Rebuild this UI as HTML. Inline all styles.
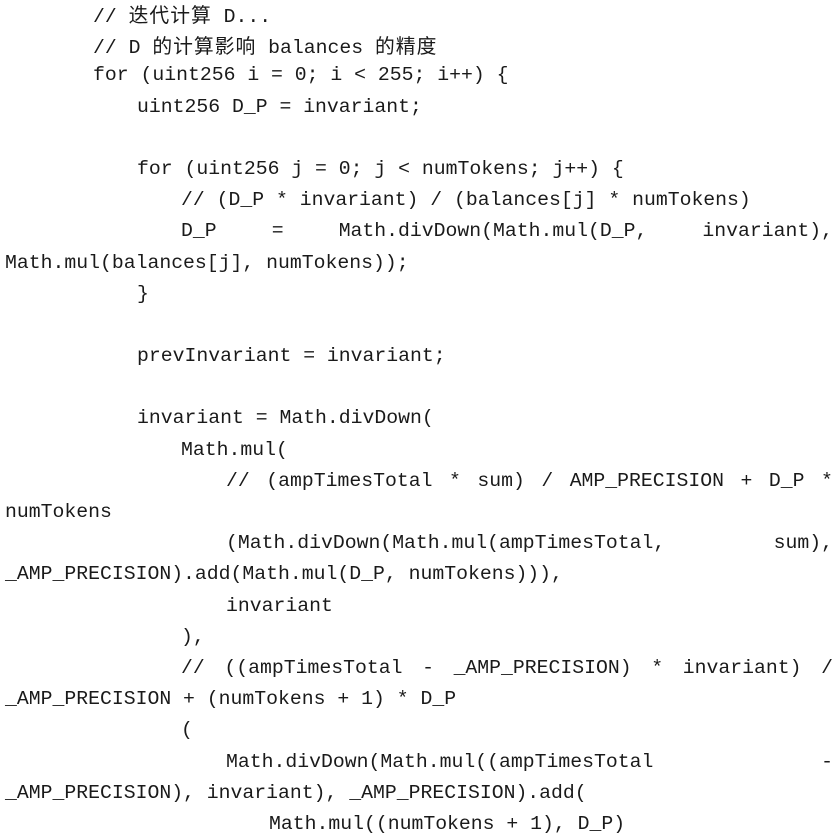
<!DOCTYPE html>
<html><head><meta charset="utf-8"><style>
body{margin:0;background:#fff;width:840px;height:837px;overflow:hidden}
.c{position:absolute;left:5px;top:-2px;width:828px;font-family:"Liberation Mono","Noto Sans CJK SC",monospace;font-size:19.8px;line-height:31.2px;color:#1a1a1a}
.l{white-space:pre;height:31.2px}
.j{display:flex;justify-content:space-between;white-space:pre;height:31.2px}
.k{font-family:"Noto Sans CJK SC",sans-serif;letter-spacing:1px}
.i1{padding-left:88px}.i2{padding-left:132px}.i3{padding-left:176px}.i4{padding-left:221px}.i5{padding-left:264px}
</style></head><body><div class="c">
<div class="l i1">// <span class="k">迭代计算</span> D...</div>
<div class="l i1">// D <span class="k">的计算影响</span> balances <span class="k">的精度</span></div>
<div class="l i1">for (uint256 i = 0; i &lt; 255; i++) {</div>
<div class="l i2">uint256 D_P = invariant;</div>
<div class="l"> </div>
<div class="l i2">for (uint256 j = 0; j &lt; numTokens; j++) {</div>
<div class="l i3">// (D_P * invariant) / (balances[j] * numTokens)</div>
<div class="j i3"><span>D_P</span><span>=</span><span>Math.divDown(Math.mul(D_P,</span><span>invariant),</span></div>
<div class="l">Math.mul(balances[j], numTokens));</div>
<div class="l i2">}</div>
<div class="l"> </div>
<div class="l i2">prevInvariant = invariant;</div>
<div class="l"> </div>
<div class="l i2">invariant = Math.divDown(</div>
<div class="l i3">Math.mul(</div>
<div class="j i4"><span>//</span><span>(ampTimesTotal</span><span>*</span><span>sum)</span><span>/</span><span>AMP_PRECISION</span><span>+</span><span>D_P</span><span>*</span></div>
<div class="l">numTokens</div>
<div class="j i4"><span>(Math.divDown(Math.mul(ampTimesTotal,</span><span>sum),</span></div>
<div class="l">_AMP_PRECISION).add(Math.mul(D_P, numTokens))),</div>
<div class="l i4">invariant</div>
<div class="l i3">),</div>
<div class="j i3"><span>//</span><span>((ampTimesTotal</span><span>-</span><span>_AMP_PRECISION)</span><span>*</span><span>invariant)</span><span>/</span></div>
<div class="l">_AMP_PRECISION + (numTokens + 1) * D_P</div>
<div class="l i3">(</div>
<div class="j i4"><span>Math.divDown(Math.mul((ampTimesTotal</span><span>-</span></div>
<div class="l">_AMP_PRECISION), invariant), _AMP_PRECISION).add(</div>
<div class="l i5">Math.mul((numTokens + 1), D_P)</div>
</div></body></html>
